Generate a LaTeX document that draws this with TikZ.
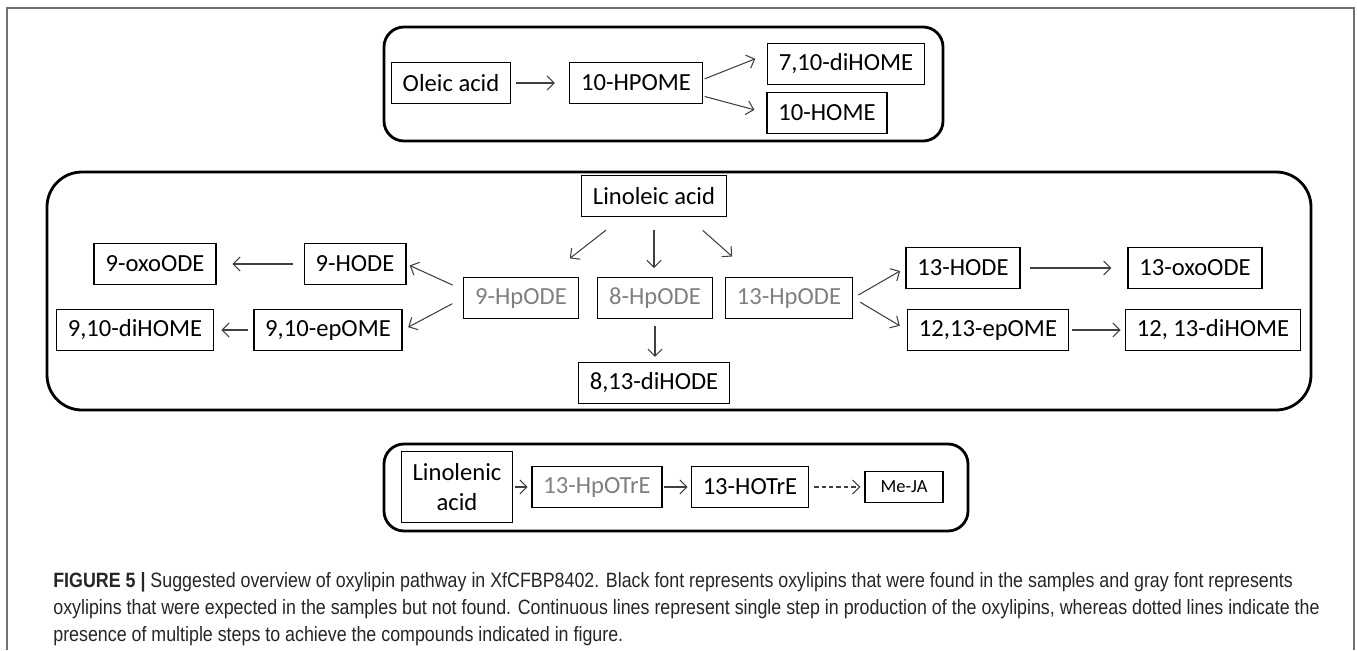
\documentclass[tikz,border=0pt]{standalone}
\usepackage{fontspec}
\setmainfont{Carlito}
\newfontfamily\capfont[FakeStretch=0.86]{Liberation Sans}
\usetikzlibrary{arrows.meta}
\definecolor{capgray}{HTML}{262626}
\definecolor{lostgray}{HTML}{7F7F7F}
\definecolor{framegray}{HTML}{707070}

\begin{document}
\begin{tikzpicture}[>={Straight Barb[length=4pt,width=8pt]},
    x=0.02cm, y=-0.02cm,
    found/.style={draw, line width=0.8pt, inner xsep=6.5pt, minimum height=0.82cm,
      font=\fontsize{14}{17}\selectfont},
    expected/.style={found, text=lostgray},
    panel/.style={line width=1.6pt},
    conv/.style={->, line width=0.6pt, draw=black!75},
  ]
    \useasboundingbox (0,0) rectangle (1357,650);
    \draw[framegray, line width=1pt] (7,650) -- (7,8) -- (1354,8) -- (1354,650);

    % oleic acid
    \draw[panel, rounded corners=0.4cm] (384,27) rectangle (943,141);
    \node[found] (oleic) at (451,83) {Oleic acid};
    \node[found] (hpome) at (636,83) {10-HPOME};
    \node[found] (di710) at (846,64) {7,10-diHOME};
    \node[found] (home10) at (827,113) {10-HOME};
    \draw[conv, shorten <=2.8pt, shorten >=8pt] (oleic.east) -- (hpome.west);
    \draw[conv, shorten <=1pt, shorten >=7pt] (hpome.3) -- (di710.173);
    \draw[conv, shorten <=1pt, shorten >=7pt] (hpome.-11) -- (home10.west);

    % linoleic acid
    \draw[panel, rounded corners=0.7cm] (47,172) rectangle (1311,410);
    \node[found] (lin) at (654,196) {Linoleic acid};
    \node[expected] (hp9) at (521,298) {9-HpODE};
    \node[expected] (hp8) at (655,298) {8-HpODE};
    \node[expected] (hp13) at (789,298) {13-HpODE};
    \node[found] (di813) at (654,383) {8,13-diHODE};
    \node[found] (hode9) at (355,264) {9-HODE};
    \node[found] (oxo9) at (155,264) {9-oxoODE};
    \node[found] (ep910) at (328,330) {9,10-epOME};
    \node[found] (di910) at (135,330) {9,10-diHOME};
    \node[found] (hode13) at (963,268) {13-HODE};
    \node[found] (oxo13) at (1195,268) {13-oxoODE};
    \node[found] (ep1213) at (988,330) {12,13-epOME};
    \node[found] (di1213) at (1213,330) {12, 13-diHOME};
    \draw[conv, shorten <=12pt, shorten >=17pt] (lin.214) -- (hp9.40);
    \draw[conv, shorten <=7.4pt, shorten >=5pt] (lin.south) -- (lin.south |- hp8.north);
    \draw[conv, shorten <=11.3pt, shorten >=17.4pt] (lin.-32) -- (hp13.148);
    \draw[conv, shorten <=4pt, shorten >=2.8pt] (hp8.south) -- (hp8.south |- di813.north);
    \draw[conv, shorten <=6.5pt, shorten >=2pt] (hp9.172) -- (hode9.east);
    \draw[conv, shorten <=6.9pt, shorten >=3.4pt] (hp9.west) -- (ep910.east);
    \draw[conv, shorten <=6.2pt, shorten >=9pt] (hode9.west) -- (oxo9.east);
    \draw[conv, shorten <=2.8pt, shorten >=4pt] (ep910.west) -- (di910.east);
    \draw[conv, shorten <=3.4pt, shorten >=3.4pt] (hp13.east) -- (hode13.west);
    \draw[conv, shorten <=4.7pt, shorten >=4.7pt] (hp13.east) -- (ep1213.west);
    \draw[conv, shorten <=5pt, shorten >=9pt] (hode13.east) -- (oxo13.west);
    \draw[conv, shorten <=1.7pt, shorten >=2.3pt] (ep1213.east) -- (di1213.west);

    % linolenic acid
    \draw[panel, rounded corners=0.4cm] (384,444) rectangle (968,531);
    \node[found, align=center, minimum height=1.42cm] (linol) at (457,487) {Linolenic\\acid};
    \node[expected] (hpotre) at (597,487) {13-HpOTrE};
    \node[found] (hotre) at (750,487) {13-HOTrE};
    \node[found, font=\fontsize{10.5}{12}\selectfont, minimum height=0.62cm, minimum width=1.56cm] (meja) at (904,487) {Me-JA};
    \draw[conv, shorten <=1pt, shorten >=2pt] (linol.east) -- (hpotre.west);
    \draw[conv, shorten <=0.6pt, shorten >=1.7pt] (hpotre.east) -- (hotre.west);
    \draw[conv, dash pattern=on 2.5pt off 1.7pt, shorten <=2.8pt, shorten >=2.3pt] (hotre.east) -- (meja.west);

    \node[anchor=north west, align=left, inner sep=0pt, text=capgray,
      font=\capfont\fontsize{11.8}{15.5}\selectfont] (caption) at (53,572)
      {\textbf{FIGURE 5 |} Suggested overview of oxylipin pathway in XfCFBP8402. Black font represents oxylipins that were found in the samples and gray font represents\\
       oxylipins that were expected in the samples but not found. Continuous lines represent single step in production of the oxylipins, whereas dotted lines indicate the\\
       presence of multiple steps to achieve the compounds indicated in figure.};
\end{tikzpicture}
\end{document}
